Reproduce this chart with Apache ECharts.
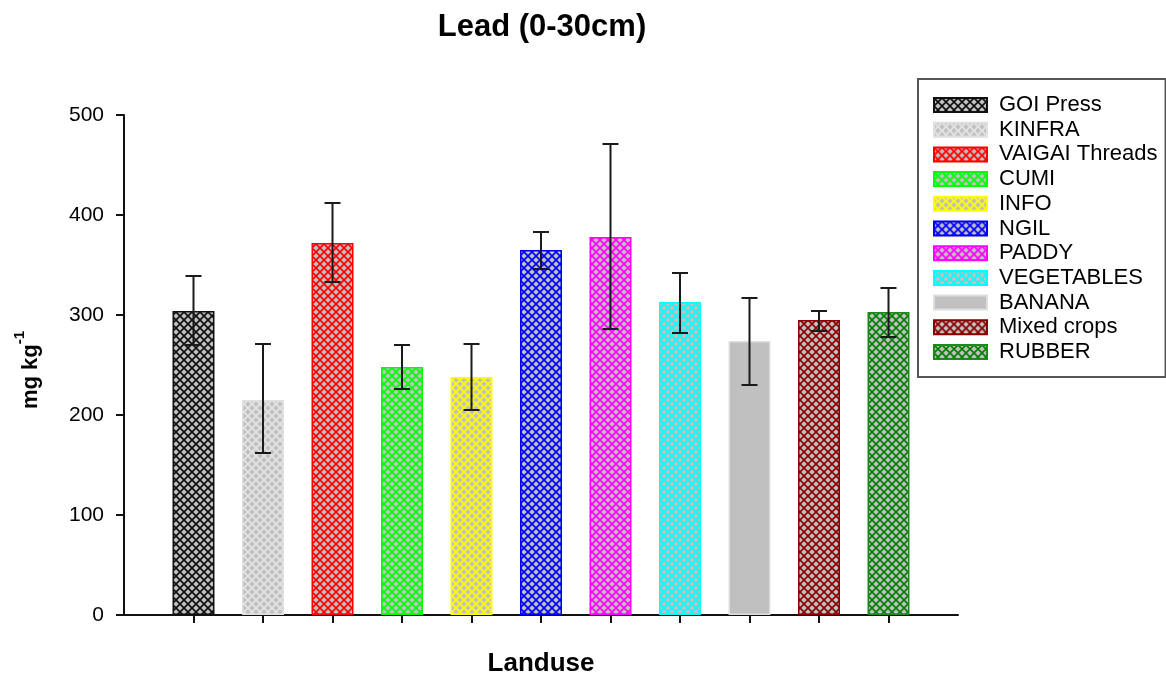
<!DOCTYPE html>
<html>
<head>
<meta charset="utf-8">
<title>Lead (0-30cm)</title>
<script src="https://cdn.jsdelivr.net/npm/echarts@6/dist/echarts.min.js"></script>
<style>
  html, body { margin: 0; padding: 0; background: #fff; overflow: hidden; }
  #chart { width: 1166px; height: 675px; }
</style>
</head>
<body>
<div id="chart"></div>
<script>
// Land-use categories and lead concentrations (mean, lower and upper error bounds), mg/kg
const categories = ['GOI Press', 'KINFRA', 'VAIGAI Threads', 'CUMI', 'INFO', 'NGIL',
                    'PADDY', 'VEGETABLES', 'BANANA', 'Mixed crops', 'RUBBER'];
const means    = [304, 215, 372, 248, 238, 365, 378, 313, 274, 295, 303];
const errLow   = [270, 162, 333, 226, 205, 346, 286, 282, 230, 284, 278];
const errHigh  = [339, 271, 412, 270, 271, 383, 471, 342, 317, 304, 327];
const yTicks   = [0, 100, 200, 300, 400, 500];

// hatch line colour and border colour per category (null hatch = plain grey fill)
const hatchColors  = ['#111111', '#e4e4e4', '#ff0000', '#00ff00', '#ffff00', '#0000ff',
                      '#ff00ff', '#00ffff', null, '#8b0000', '#008000'];
const borderColors = ['#111111', '#e0e0e0', '#ff0000', '#00ff00', '#ffff00', '#0000ff',
                      '#ff00ff', '#00ffff', '#dedede', '#8b0000', '#1a8a1a'];

function makeHatch(lineColor) {
  const size = 8;
  const c = document.createElement('canvas');
  c.width = size; c.height = size;
  const ctx = c.getContext('2d');
  ctx.fillStyle = '#c0c0c0';
  ctx.fillRect(0, 0, size, size);
  if (lineColor) {
    ctx.strokeStyle = lineColor;
    ctx.lineWidth = 1.7;
    ctx.beginPath();
    ctx.moveTo(-1, -1); ctx.lineTo(size + 1, size + 1);
    ctx.moveTo(size + 1, -1); ctx.lineTo(-1, size + 1);
    ctx.stroke();
  }
  return c;
}

const FONT = '"Liberation Sans", Arial, sans-serif';
const positions = categories.map((_, i) => i + 1);

const barSeries = categories.map((name, i) => ({
  name: name,
  type: 'bar',
  barWidth: 42,
  barGap: '-100%',
  data: [[positions[i], means[i]]],
  itemStyle: {
    color: hatchColors[i] ? { image: makeHatch(hatchColors[i]), repeat: 'repeat' } : '#c0c0c0',
    borderColor: borderColors[i],
    borderWidth: 1.5
  },
  emphasis: { disabled: true },
  z: 2
}));

const errorSeries = {
  name: 'error',
  type: 'custom',
  z: 5,
  silent: true,
  data: categories.map((_, i) => [positions[i], errLow[i], errHigh[i]]),
  renderItem: function (params, api) {
    const x = api.value(0);
    const lo = api.coord([x, api.value(1)]);
    const hi = api.coord([x, api.value(2)]);
    const half = 8;
    const style = { stroke: '#1a1a1a', lineWidth: 2 };
    return {
      type: 'group',
      children: [
        { type: 'line', shape: { x1: hi[0], y1: hi[1], x2: lo[0], y2: lo[1] }, style: style },
        { type: 'line', shape: { x1: hi[0] - half, y1: hi[1], x2: hi[0] + half, y2: hi[1] }, style: style },
        { type: 'line', shape: { x1: lo[0] - half, y1: lo[1], x2: lo[0] + half, y2: lo[1] }, style: style }
      ]
    };
  }
};

const chart = echarts.init(document.getElementById('chart'));
chart.setOption({
  backgroundColor: '#ffffff',
  animation: false,
  title: {
    text: 'Lead (0-30cm)',
    left: 542,
    textAlign: 'center',
    top: 12,
    padding: 0,
    textStyle: { fontFamily: FONT, fontSize: 31, fontWeight: 'bold', color: '#000' }
  },
  legend: {
    data: categories,
    orient: 'vertical',
    left: 918,
    top: 79,
    padding: [15, 8, 14, 15],
    itemWidth: 53,
    itemHeight: 14,
    itemGap: 2.7,
    icon: 'rect',
    borderColor: '#555',
    borderWidth: 2,
    borderRadius: 0,
    selectedMode: false,
    textStyle: { fontFamily: FONT, fontSize: 22, color: '#000', padding: [0, 0, 0, 7] }
  },
  grid: {
    left: 124, width: 834, top: 115, height: 500,
    containLabel: false,
    outerBoundsMode: 'none'
  },
  xAxis: {
    type: 'value',
    min: 0,
    max: 12,
    interval: 1,
    name: 'Landuse',
    nameLocation: 'middle',
    nameGap: 36,
    nameTextStyle: { fontFamily: FONT, fontSize: 26, fontWeight: 'bold', color: '#000' },
    axisLine: { show: true, onZero: false, lineStyle: { color: '#111', width: 2 } },
    axisTick: { show: true, length: 8, customValues: positions, lineStyle: { color: '#111', width: 2 } },
    axisLabel: { show: false },
    splitLine: { show: false }
  },
  yAxis: {
    type: 'value',
    min: yTicks[0],
    max: yTicks[yTicks.length - 1],
    interval: 100,
    name: '{a|mg kg}{b|-1}',
    nameLocation: 'middle',
    nameGap: 82,
    nameTextStyle: {
      padding: [0, 10, 0, 0],
      rich: {
        a: { fontFamily: FONT, fontSize: 22, fontWeight: 'bold', color: '#000', lineHeight: 30, verticalAlign: 'bottom' },
        b: { fontFamily: FONT, fontSize: 15, fontWeight: 'bold', color: '#000', lineHeight: 30, verticalAlign: 'top' }
      }
    },
    axisLine: { show: true, lineStyle: { color: '#111', width: 2 } },
    axisTick: { show: true, length: 8, lineStyle: { color: '#111', width: 2 } },
    axisLabel: { fontFamily: FONT, fontSize: 21, color: '#000', margin: 20 },
    splitLine: { show: false }
  },
  series: barSeries.concat([errorSeries])
});
</script>
</body>
</html>
